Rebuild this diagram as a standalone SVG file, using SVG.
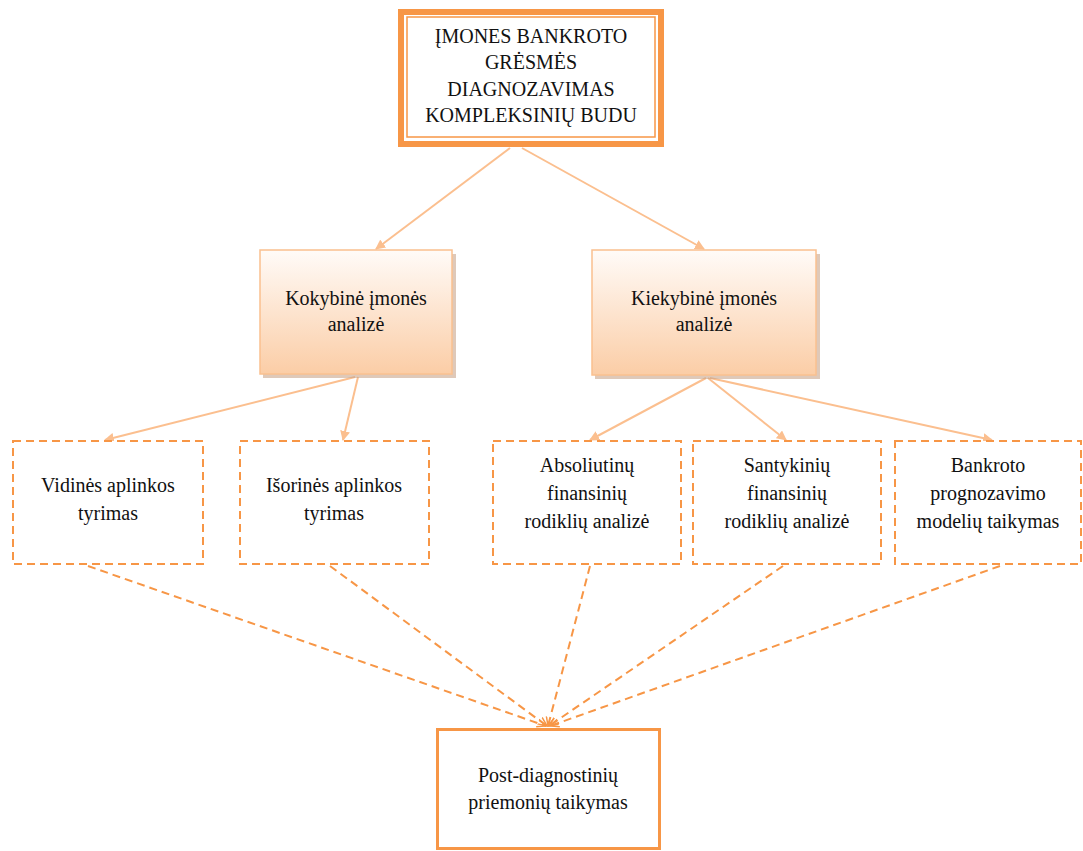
<svg xmlns="http://www.w3.org/2000/svg" width="1083" height="851" viewBox="0 0 1083 851">
<style>
  .t { font-size: 20px; fill: #111; text-anchor: middle; }
  .dbox { fill: #fff; stroke: #f79646; stroke-width: 2; stroke-dasharray: 8 5; }
  .gbox { fill: url(#peach); stroke: #fac08f; stroke-width: 1.5; }
  .shadow { fill: #c9a58a; opacity: 0.6; }
  .solid { stroke: #fbbf8f; stroke-width: 2; fill: none; marker-end: url(#arr); }
  .dash { stroke: #f79646; stroke-width: 2; stroke-dasharray: 8 5; fill: none; marker-end: url(#arr2); }
</style>
<defs>
  <linearGradient id="peach" x1="0" y1="0" x2="0" y2="1">
    <stop offset="0" stop-color="#fffbf8"/>
    <stop offset="1" stop-color="#fbcda6"/>
  </linearGradient>
  <marker id="arr" markerWidth="10" markerHeight="10" refX="9" refY="5" orient="auto" markerUnits="userSpaceOnUse">
    <path d="M0,0 L10,5 L0,10 z" fill="#fbbf8f"/>
  </marker>
  <marker id="arr2" markerWidth="10" markerHeight="10" refX="9" refY="5" orient="auto" markerUnits="userSpaceOnUse">
    <path d="M0,1 L9,5 L0,9" fill="none" stroke="#f79646" stroke-width="1.5"/>
  </marker>
</defs>
<rect width="1083" height="851" fill="#fff"/>

<g id="connectors">
  <line class="solid" x1="510" y1="148" x2="376" y2="249"/>
  <line class="solid" x1="522" y1="148" x2="704" y2="249"/>
  <line class="solid" x1="355" y1="377" x2="105" y2="440"/>
  <line class="solid" x1="358" y1="377" x2="343" y2="440"/>
  <line class="solid" x1="706" y1="378" x2="590" y2="440"/>
  <line class="solid" x1="708" y1="378" x2="786" y2="440"/>
  <line class="solid" x1="710" y1="378" x2="992" y2="440"/>
  <line class="dash" x1="88" y1="566" x2="546" y2="726"/>
  <line class="dash" x1="330" y1="566" x2="547" y2="726"/>
  <line class="dash" x1="590" y1="566" x2="548" y2="726"/>
  <line class="dash" x1="783" y1="566" x2="549" y2="726"/>
  <line class="dash" x1="1000" y1="566" x2="550" y2="726"/>
</g>

<g font-family="'Liberation Serif', 'Times New Roman', serif">
<g id="top">
  <rect x="401" y="12" width="260" height="132" fill="#fff" stroke="#f79646" stroke-width="6"/>
  <rect x="407" y="17" width="248" height="120" fill="none" stroke="#f79646" stroke-width="1.5"/>
  <text class="t" x="531" y="43">ĮMONES BANKROTO</text>
  <text class="t" x="531" y="69">GRĖSMĖS</text>
  <text class="t" x="531" y="96">DIAGNOZAVIMAS</text>
  <text class="t" x="531" y="122">KOMPLEKSINIŲ BUDU</text>
</g>

<g id="kokybine">
  <rect class="shadow" x="263" y="254" width="193" height="124"/>
  <rect class="gbox" x="260" y="250" width="192" height="124"/>
  <text class="t" x="356" y="305">Kokybinė įmonės</text>
  <text class="t" x="356" y="331">analizė</text>
</g>

<g id="kiekybine">
  <rect class="shadow" x="595" y="254" width="225" height="125"/>
  <rect class="gbox" x="592" y="250" width="224" height="125"/>
  <text class="t" x="704" y="305">Kiekybinė įmonės</text>
  <text class="t" x="704" y="331">analizė</text>
</g>

<g id="vidines">
  <rect class="dbox" x="13" y="441" width="190" height="123"/>
  <text class="t" x="108" y="492">Vidinės aplinkos</text>
  <text class="t" x="108" y="520">tyrimas</text>
</g>

<g id="isorines">
  <rect class="dbox" x="240" y="441" width="189" height="123"/>
  <text class="t" x="334" y="492">Išorinės aplinkos</text>
  <text class="t" x="334" y="520">tyrimas</text>
</g>

<g id="absoliutiniu">
  <rect class="dbox" x="493" y="441" width="188" height="123"/>
  <text class="t" x="587" y="472">Absoliutinų</text>
  <text class="t" x="587" y="500">finansinių</text>
  <text class="t" x="587" y="528">rodiklių analizė</text>
</g>

<g id="santykiniu">
  <rect class="dbox" x="693" y="441" width="188" height="123"/>
  <text class="t" x="787" y="472">Santykinių</text>
  <text class="t" x="787" y="500">finansinių</text>
  <text class="t" x="787" y="528">rodiklių analizė</text>
</g>

<g id="bankroto">
  <rect class="dbox" x="895" y="441" width="186" height="123"/>
  <text class="t" x="988" y="472">Bankroto</text>
  <text class="t" x="988" y="500">prognozavimo</text>
  <text class="t" x="988" y="528">modelių taikymas</text>
</g>

<g id="post">
  <rect x="437.5" y="729.5" width="222" height="119" fill="#fff" stroke="#f79646" stroke-width="3"/>
  <text class="t" x="548" y="782">Post-diagnostinių</text>
  <text class="t" x="548" y="809">priemonių taikymas</text>
</g>
</g>
</svg>
